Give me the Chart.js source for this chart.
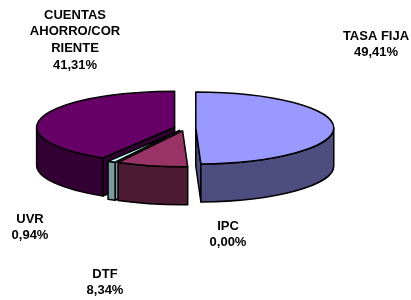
<!DOCTYPE html>
<html>
<head>
<meta charset="utf-8">
<script src="https://cdn.jsdelivr.net/npm/chart.js@4.4.0/dist/chart.umd.min.js"></script>
<style>
  body { margin: 0; background: #fff; }
</style>
</head>
<body>
<canvas id="grafico" width="411" height="300"></canvas>
<script>
const categorias = ['TASA FIJA', 'IPC', 'DTF', 'UVR', ['CUENTAS', 'AHORRO/COR', 'RIENTE']];
const porcentajes = [49.41, 0.00, 8.34, 0.94, 41.31];
const coresTopo = ['#9999FF', '#993366', '#993366', '#CCFFFF', '#660066'];
const coresLado = ['#4D4D80', '#4D1A33', '#4D1A33', '#7A9C9C', '#330033'];

// onde fica cada rótulo (centro da primeira linha)
const posRotulos = [[376, 36], [228, 226], [105, 274], [30, 219], [75, 15]];

const RX = 138, RY = 36, PROF = 38, EXPL = 10;

const pizza3d = {
    id: 'pizza3d',
    beforeDatasetsDraw(chart) {
        const ctx = chart.ctx;
        const arcs = chart.getDatasetMeta(0).data;
        const kx = RX / arcs[0].outerRadius, ky = RY / arcs[0].outerRadius;

        let fatias = [];
        arcs.forEach((arc, i) => {
            if (porcentajes[i] <= 0) return;
            const a1 = arc.startAngle, a2 = arc.endAngle;
            const meio = (a1 + a2) / 2;
            const cx = arc.x + EXPL * Math.cos(meio) * kx;
            const cy = arc.y + EXPL * Math.sin(meio) * ky;
            fatias.push({ i, a1, a2, meio, cx, cy });
        });
        // desenha de trás pra frente
        fatias.sort((p, q) => Math.sin(p.meio) - Math.sin(q.meio));

        ctx.save();
        ctx.lineWidth = 1.5;
        ctx.strokeStyle = '#000';
        ctx.lineJoin = 'round';

        const ponto = (f, a, dy) => [f.cx + RX * Math.cos(a), f.cy + RY * Math.sin(a) + dy];

        fatias.forEach(f => {
            ctx.fillStyle = coresLado[f.i];

            // faces retas
            [[f.a1, Math.cos(f.a1) < -0.001], [f.a2, Math.cos(f.a2) > 0.001]].forEach(([a, visivel]) => {
                if (!visivel) return;
                const p = ponto(f, a, 0);
                ctx.beginPath();
                ctx.moveTo(f.cx, f.cy);
                ctx.lineTo(p[0], p[1]);
                ctx.lineTo(p[0], p[1] + PROF);
                ctx.lineTo(f.cx, f.cy + PROF);
                ctx.closePath();
                ctx.fill();
                ctx.stroke();
            });

            // lateral curva (só a parte da frente)
            const lo = Math.max(f.a1, 0), hi = Math.min(f.a2, Math.PI);
            if (lo < hi) {
                const p = ponto(f, hi, 0);
                ctx.beginPath();
                ctx.ellipse(f.cx, f.cy, RX, RY, 0, lo, hi);
                ctx.lineTo(p[0], p[1] + PROF);
                ctx.ellipse(f.cx, f.cy + PROF, RX, RY, 0, hi, lo, true);
                ctx.closePath();
                ctx.fill();
                ctx.stroke();
            }

            // topo
            ctx.fillStyle = coresTopo[f.i];
            ctx.beginPath();
            ctx.moveTo(f.cx, f.cy);
            ctx.ellipse(f.cx, f.cy, RX, RY, 0, f.a1, f.a2);
            ctx.closePath();
            ctx.fill();
            ctx.stroke();
        });
        ctx.restore();
        return false;
    },
    afterDraw(chart) {
        const ctx = chart.ctx;
        ctx.save();
        ctx.fillStyle = '#000';
        ctx.font = 'bold 13px "Liberation Sans", Arial, sans-serif';
        ctx.textAlign = 'center';
        ctx.textBaseline = 'middle';
        chart.data.labels.forEach((lab, i) => {
            const linhas = [].concat(lab);
            linhas.push(porcentajes[i].toFixed(2).replace('.', ',') + '%');
            const [x, y] = posRotulos[i];
            linhas.forEach((t, j) => ctx.fillText(t, x, y + j * 16.7));
        });
        ctx.restore();
    }
};

new Chart(document.getElementById('grafico'), {
    type: 'pie',
    data: {
        labels: categorias,
        datasets: [{
            data: porcentajes,
            backgroundColor: coresTopo,
            borderWidth: 0,
            hoverOffset: 0
        }]
    },
    options: {
        responsive: false,
        animation: false,
        layout: { padding: { left: 0, right: 41, top: 0, bottom: 44 } },
        plugins: {
            legend: { display: false },
            tooltip: { enabled: false }
        }
    },
    plugins: [pizza3d]
});
</script>
</body>
</html>
